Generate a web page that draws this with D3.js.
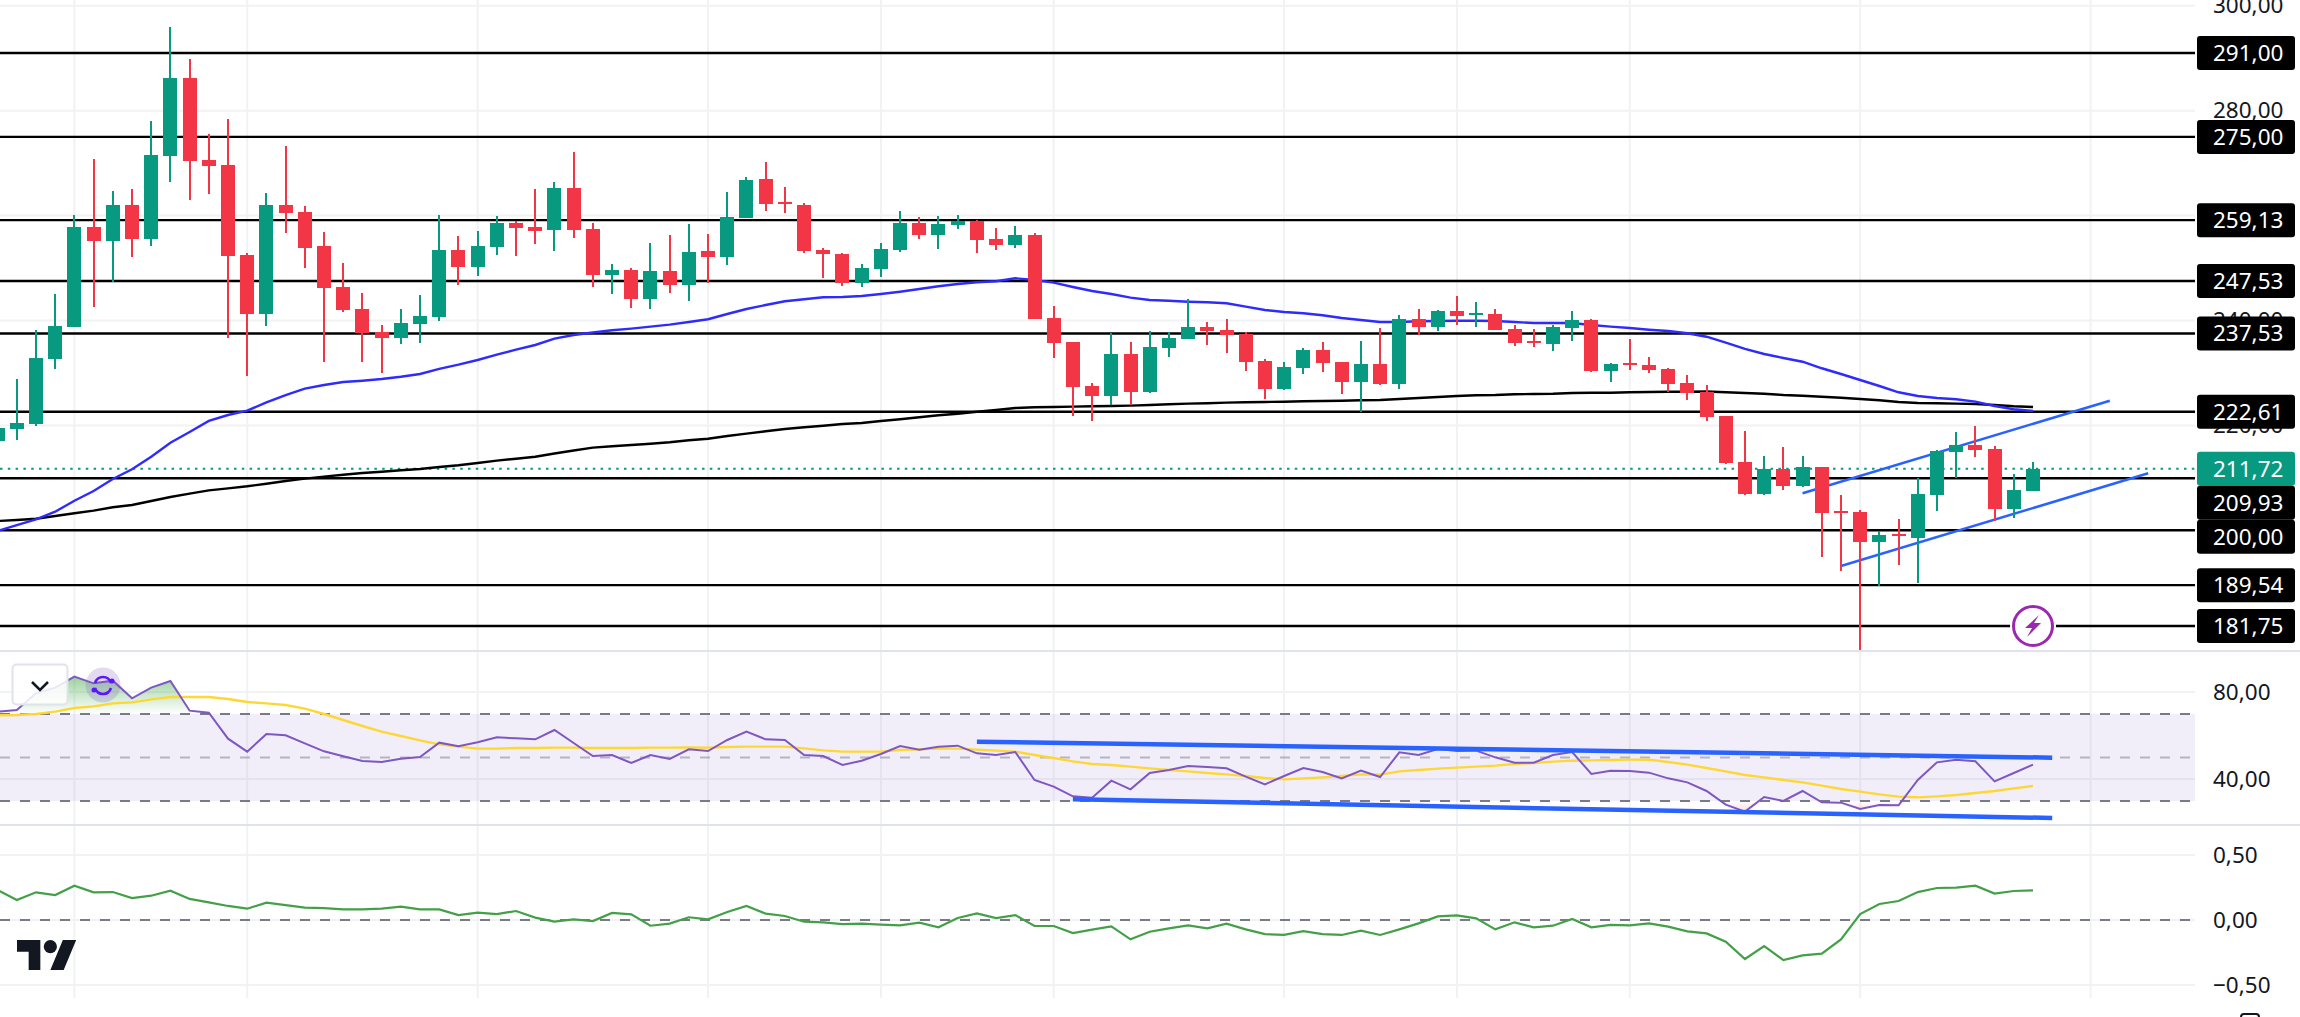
<!DOCTYPE html>
<html>
<head>
<meta charset="utf-8">
<title>chart</title>
<script src="https://cdn.jsdelivr.net/npm/d3@7"></script>
<style>
  html, body { margin: 0; padding: 0; background: #fff; overflow: hidden; }
  text { font-family: "Noto Sans", sans-serif; font-size: 22.5px; fill: #131722; }
</style>
</head>
<body>
<svg id="chart" width="2300" height="1017"></svg>
<script>
// candle values, first entry sits one bar left of the window edge
const opens = [217.08,219.31,220.27,232.66,238.82,257.82,255.21,262.02,255.59,271.42,
  286.23,270.60,269.65,252.49,241.30,262.02,260.69,254.20,246.39,242.19,
  237.81,236.72,239.39,240.72,253.44,250.26,254.07,258.59,257.82,257.31,
  265.26,257.44,248.73,249.63,244.15,249.44,246.82,253.25,252.16,259.60,
  266.98,262.59,262.02,253.44,252.68,247.21,249.87,253.50,258.59,256.36,
  258.26,259.03,255.54,254.45,256.30,240.47,235.90,227.51,225.66,233.61,
  226.42,234.81,236.53,238.76,238.19,237.48,232.28,227.00,231.00,234.37,
  232.09,228.33,231.70,227.95,240.28,238.82,241.81,241.18,241.24,238.38,
  236.09,235.57,238.62,240.09,230.43,231.90,231.51,230.75,228.08,226.42,
  221.79,213.02,206.98,211.69,208.50,212.07,203.68,203.49,197.83,199.29,
  198.59,206.79,214.98,216.26,215.50,204.12,207.55];
const highs = [219.50,228.85,238.19,245.05,260.11,270.79,264.69,265.07,278.03,295.95,
  289.85,275.55,278.42,252.81,264.31,273.27,261.83,256.87,250.96,245.24,
  239.14,242.19,244.86,260.11,256.11,257.06,259.92,258.97,265.07,266.41,
  272.12,258.59,250.77,250.01,254.78,256.30,258.40,256.49,264.50,267.36,
  270.22,265.45,262.40,253.82,252.87,250.77,254.78,260.88,259.73,259.92,
  260.11,259.16,257.64,258.02,256.68,242.76,235.90,228.08,237.61,235.90,
  237.99,237.81,244.04,239.71,240.28,237.81,232.66,232.09,234.75,235.90,
  232.09,236.09,238.57,241.05,242.19,242.00,244.67,243.53,242.19,239.14,
  238.38,239.14,241.81,240.28,231.90,236.47,233.04,230.94,229.61,227.70,
  221.79,218.93,214.17,215.88,214.17,212.07,206.73,203.87,199.86,202.15,
  209.91,215.31,218.74,219.88,216.07,210.73,213.02];
const lows = [217.08,217.21,219.94,230.75,238.82,242.63,247.40,252.16,254.20,266.46,
  263.03,264.18,236.72,229.47,239.01,256.74,250.07,232.14,241.68,232.14,
  230.05,235.57,235.77,239.96,246.82,248.54,252.54,252.35,254.64,253.31,
  255.79,246.44,245.11,242.44,242.25,245.30,243.77,247.21,250.64,259.60,
  260.93,260.55,252.92,248.16,246.63,246.44,248.35,253.12,255.59,253.69,
  257.50,252.92,253.50,253.88,240.20,232.91,221.85,220.90,223.89,223.89,
  226.20,233.10,236.53,235.33,233.86,230.43,225.09,226.80,229.85,230.24,
  226.04,222.61,227.76,227.00,237.29,238.05,239.14,238.82,238.24,235.19,
  235.00,234.24,236.15,230.24,228.33,230.62,230.05,226.37,224.90,220.90,
  212.70,206.73,206.79,207.74,208.31,194.97,192.30,177.18,189.32,193.44,
  190.01,203.74,210.03,214.03,201.83,202.40,207.55];
const closes = [219.50,220.40,232.79,238.95,257.82,255.21,262.02,255.59,271.55,286.23,
  270.47,269.51,252.35,241.30,262.02,260.55,253.88,246.25,242.06,237.67,
  236.72,239.52,240.86,253.44,250.26,254.20,258.59,257.69,257.12,265.26,
  257.31,248.73,249.63,244.15,249.44,246.82,253.06,252.16,259.73,266.79,
  262.27,262.34,253.31,252.73,247.21,250.01,253.63,258.59,256.36,258.40,
  258.97,255.40,254.45,256.30,240.34,235.77,227.38,225.66,233.61,226.42,
  234.95,236.66,238.76,237.99,237.29,232.14,227.00,231.13,234.37,231.95,
  228.33,231.70,227.95,240.28,238.82,241.81,240.91,241.43,238.24,235.77,
  235.84,238.76,240.09,230.43,231.70,231.57,230.62,227.95,226.23,221.66,
  212.89,206.92,211.74,208.50,212.07,203.35,203.43,197.83,199.10,199.04,
  206.92,215.12,216.26,215.37,204.12,207.68,211.72];

// moving averages on the price pane
const maBlue = [199.86,201.00,202.09,203.54,205.64,207.49,209.78,211.63,214.03,216.70,
  218.74,220.84,221.98,222.80,224.40,225.79,227.00,227.70,228.27,228.52,
  228.85,229.28,229.80,230.79,231.57,232.47,233.48,234.43,235.33,236.53,
  237.23,237.71,238.13,238.44,238.82,239.20,239.71,240.23,241.24,242.19,
  242.95,243.66,244.04,244.42,244.48,244.67,245.05,245.49,246.00,246.52,
  246.96,247.28,247.47,248.04,247.72,247.21,246.39,245.62,245.05,244.35,
  243.91,243.77,243.58,243.47,243.28,242.63,242.00,241.62,241.37,240.99,
  240.47,240.09,239.71,239.71,239.85,239.90,239.96,239.96,239.90,239.71,
  239.52,239.52,239.52,239.14,238.82,238.57,238.24,237.99,237.56,236.91,
  235.77,234.57,233.61,232.85,232.14,230.89,229.80,228.65,227.51,226.31,
  225.60,225.22,224.97,224.52,223.70,223.07,222.74];
const maBlack = [201.77,201.96,202.21,202.73,203.24,203.74,204.38,204.82,205.58,206.35,
  206.98,207.62,208.00,208.39,208.88,209.40,209.84,210.22,210.60,210.92,
  211.17,211.44,211.69,212.07,212.39,212.83,213.27,213.65,214.03,214.64,
  215.21,215.75,216.01,216.26,216.51,216.78,217.16,217.46,217.98,218.42,
  218.87,219.31,219.64,219.94,220.27,220.46,220.84,221.16,221.54,221.92,
  222.23,222.61,222.94,223.32,223.45,223.51,223.57,223.64,223.70,223.76,
  223.89,224.02,224.14,224.21,224.33,224.40,224.46,224.52,224.59,224.65,
  224.71,224.79,224.84,225.03,225.22,225.41,225.60,225.74,225.79,225.93,
  225.99,226.04,226.18,226.23,226.23,226.31,226.37,226.42,226.42,226.46,
  226.31,226.18,226.04,225.79,225.66,225.47,225.28,225.03,224.79,224.46,
  224.27,224.21,224.14,224.08,223.89,223.64,223.51];

// RSI pane
const rsiValues = [71.07,71.84,79.50,82.11,87.16,84.10,85.33,77.20,82.11,85.17,
  71.53,70.61,58.66,52.68,60.80,60.19,56.51,52.84,50.54,48.39,
  47.93,49.46,50.23,56.82,55.13,56.97,59.27,58.81,58.35,62.64,
  56.67,50.69,51.15,47.47,51.15,49.31,53.75,52.99,58.05,61.88,
  58.35,58.05,51.15,50.69,46.55,48.54,51.61,55.29,53.60,54.98,
  55.44,51.92,51.15,52.53,39.66,36.59,32.15,31.53,39.35,35.36,
  42.87,44.25,46.09,45.63,45.02,41.19,37.66,41.49,45.17,43.33,
  40.42,43.95,41.03,52.38,51.15,53.91,52.99,53.14,50.08,47.62,
  47.62,51.15,52.53,42.41,43.95,43.79,43.03,40.42,38.58,34.60,
  28.31,25.10,31.84,30.00,34.60,29.39,29.23,26.32,28.16,28.01,
  39.66,47.78,49.00,48.24,39.04,42.87,46.70];
const rsiMa = [69.39,69.54,70.00,71.07,72.76,73.52,74.90,75.36,76.74,77.82,
  77.82,77.82,76.90,75.52,74.90,74.14,72.45,70.00,67.24,64.48,
  61.88,59.89,57.89,56.05,54.98,54.06,54.06,54.37,54.37,54.52,
  54.52,54.37,54.37,54.37,54.52,54.52,54.67,54.52,54.83,54.98,
  54.98,54.98,54.21,53.30,52.68,52.68,52.68,53.45,53.75,54.06,
  54.06,53.60,53.14,52.68,51.15,49.77,48.24,47.01,46.55,45.79,
  45.02,44.25,43.64,42.87,42.26,41.49,40.57,39.96,40.42,40.88,
  41.49,42.26,42.11,43.64,44.25,44.87,45.33,45.79,46.25,47.01,
  47.47,48.08,48.54,48.70,48.85,49.00,49.00,47.93,46.70,45.17,
  43.64,41.95,40.88,39.66,38.58,37.05,35.52,34.29,33.07,31.99,
  31.69,32.15,32.76,33.68,34.60,35.82,36.89];

// lower oscillator pane
const oscValues = [0.230,0.154,0.213,0.192,0.264,0.213,0.215,0.169,0.187,0.226,
  0.162,0.136,0.108,0.087,0.133,0.115,0.095,0.092,0.082,0.082,
  0.087,0.103,0.082,0.082,0.038,0.056,0.046,0.069,0.018,-0.013,
  0.005,-0.008,0.054,0.044,-0.044,-0.028,0.021,0.005,0.062,0.108,
  0.049,0.031,-0.013,-0.018,-0.031,-0.028,-0.036,-0.041,-0.021,-0.056,
  0.015,0.051,0.015,0.038,-0.046,-0.046,-0.100,-0.074,-0.049,-0.149,
  -0.090,-0.064,-0.041,-0.064,-0.028,-0.072,-0.108,-0.115,-0.085,-0.108,
  -0.115,-0.082,-0.115,-0.072,-0.026,0.028,0.036,0.013,-0.072,-0.018,
  -0.056,-0.044,0.008,-0.056,-0.038,-0.041,-0.026,-0.051,-0.087,-0.103,
  -0.167,-0.300,-0.200,-0.308,-0.272,-0.259,-0.149,0.046,0.123,0.146,
  0.215,0.246,0.249,0.264,0.203,0.223,0.228];

// horizontal levels and axis ticks
const levels = [291, 275, 259.13, 247.53, 237.53, 222.61, 209.93, 200, 189.54, 181.75];
const lastPrice = 211.72;
const priceTicks = [300, 280, 260, 240, 220, 200];
const rsiTicks = [80, 40];
const rsiBands = [70, 50, 30];
const oscTicks = [0.5, 0, -0.5];
const gridBars = [3, 12, 24, 36, 45, 54, 66, 75, 84, 96, 108];

// drawn trend lines, [bar, value]
const channelUp = [[93, 207.05], [109, 224.71]];
const channelDown = [[95, 193.19], [111, 210.87]];
const rsiTrendUp = [[50, 57.28], [106, 49.92]];
const rsiTrendDown = [[55, 30.77], [106, 22.18]];

const plotRight = 2195;
const firstBar = -1;

const svg = d3.select("#chart");
const comma = d3.formatLocale({decimal: ",", thousands: ".", grouping: [3], currency: ["", ""], minus: "\u2212"}).format(".2f");

const x = d3.scaleLinear().domain([0, 105]).range([16.8, 2033]);
const yPrice = d3.scaleLinear().domain([291, 181.75]).range([53, 626]);
const yRsi = d3.scaleLinear().domain([70, 30]).range([714, 801]);
const yOsc = d3.scaleLinear().domain([0.5, -0.5]).range([855, 985]);
const yRsiAxis = d3.scaleLinear().domain([80, 40]).range([692, 779]);

const bars = opens.map((o, i) => ({bar: i + firstBar, open: o, high: highs[i], low: lows[i], close: closes[i]}));
const series = (values) => values.map((v, i) => ({bar: i + firstBar, value: v}));
const lineOn = (y) => d3.line().x(d => x(d.bar)).y(d => y(d.value));
const trendOn = (y) => d3.line().x(d => x(d[0])).y(d => y(d[1]));

// gradients for the RSI over/under zones
const defs = svg.append("defs");
const overGrad = defs.append("linearGradient").attr("id", "overGrad")
  .attr("gradientUnits", "userSpaceOnUse").attr("x1", 0).attr("x2", 0)
  .attr("y1", yRsi(87)).attr("y2", yRsi(70));
overGrad.append("stop").attr("offset", 0).attr("stop-color", "#4caf50").attr("stop-opacity", 0.55);
overGrad.append("stop").attr("offset", 1).attr("stop-color", "#4caf50").attr("stop-opacity", 0);
const underGrad = defs.append("linearGradient").attr("id", "underGrad")
  .attr("gradientUnits", "userSpaceOnUse").attr("x1", 0).attr("x2", 0)
  .attr("y1", yRsi(30)).attr("y2", yRsi(25));
underGrad.append("stop").attr("offset", 0).attr("stop-color", "#f23645").attr("stop-opacity", 0);
underGrad.append("stop").attr("offset", 1).attr("stop-color", "#f23645").attr("stop-opacity", 0.18);

// grid
const grid = svg.append("g").attr("stroke", "#f1f2f4").attr("stroke-width", 2);
grid.selectAll(".v").data(gridBars).join("line")
  .attr("x1", d => x(d)).attr("x2", d => x(d)).attr("y1", 0).attr("y2", 998);
const gridRows = priceTicks.map(d => yPrice(d)).concat(rsiTicks.map(d => yRsiAxis(d)), oscTicks.map(d => yOsc(d)));
grid.selectAll(".h").data(gridRows).join("line")
  .attr("x1", 0).attr("x2", plotRight).attr("y1", d => d).attr("y2", d => d);

// pane separators
svg.append("g").attr("stroke", "#e0e3eb").attr("stroke-width", 2)
  .selectAll("line").data([651, 825]).join("line")
  .attr("x1", 0).attr("x2", 2300).attr("y1", d => d).attr("y2", d => d);

// levels behind the candles
svg.append("g").attr("stroke", "#000").attr("stroke-width", 2.4)
  .selectAll("line").data(levels).join("line")
  .attr("x1", 0).attr("x2", plotRight).attr("y1", d => yPrice(d)).attr("y2", d => yPrice(d));

svg.append("line").attr("x1", 0).attr("x2", plotRight)
  .attr("y1", yPrice(lastPrice)).attr("y2", yPrice(lastPrice))
  .attr("stroke", "#089981").attr("stroke-width", 2).attr("stroke-dasharray", "2.5 5.3");

// moving averages
svg.append("path").datum(series(maBlack)).attr("d", lineOn(yPrice))
  .attr("fill", "none").attr("stroke", "#000").attr("stroke-width", 2.4);
svg.append("path").datum(series(maBlue)).attr("d", lineOn(yPrice))
  .attr("fill", "none").attr("stroke", "#2f2bff").attr("stroke-width", 2.4);

// channel
svg.append("g").selectAll("path").data([channelUp, channelDown]).join("path")
  .attr("d", trendOn(yPrice)).attr("fill", "none")
  .attr("stroke", "#2962ff").attr("stroke-width", 2.5);

// candles
const candle = svg.append("g").selectAll("g").data(bars).join("g")
  .attr("fill", d => d.close >= d.open ? "#089981" : "#f23645")
  .attr("shape-rendering", "crispEdges");
candle.append("rect")
  .attr("x", d => x(d.bar) - 1).attr("width", 2)
  .attr("y", d => yPrice(d.high)).attr("height", d => yPrice(d.low) - yPrice(d.high));
candle.append("rect")
  .attr("x", d => x(d.bar) - 7).attr("width", 14)
  .attr("y", d => yPrice(Math.max(d.open, d.close)))
  .attr("height", d => Math.max(2, Math.abs(yPrice(d.open) - yPrice(d.close))));

// RSI pane
svg.append("rect").attr("x", 0).attr("width", plotRight)
  .attr("y", yRsi(70)).attr("height", yRsi(30) - yRsi(70))
  .attr("fill", "#7e57c2").attr("fill-opacity", 0.1);

svg.append("g").selectAll("line").data(rsiBands).join("line")
  .attr("x1", 0).attr("x2", plotRight).attr("y1", d => yRsi(d)).attr("y2", d => yRsi(d))
  .attr("stroke", "#787b86").attr("stroke-width", 2).attr("stroke-dasharray", "10 10")
  .attr("stroke-opacity", d => d === 50 ? 0.5 : 1);

const rsiData = series(rsiValues);
svg.append("path").datum(rsiData)
  .attr("d", d3.area().x(d => x(d.bar)).y0(yRsi(70)).y1(d => yRsi(Math.max(d.value, 70))))
  .attr("fill", "url(#overGrad)");
svg.append("path").datum(rsiData)
  .attr("d", d3.area().x(d => x(d.bar)).y0(yRsi(30)).y1(d => yRsi(Math.min(d.value, 30))))
  .attr("fill", "url(#underGrad)");

svg.append("path").datum(series(rsiMa)).attr("d", lineOn(yRsi))
  .attr("fill", "none").attr("stroke", "#fdd835").attr("stroke-width", 2.4);
svg.append("path").datum(rsiData).attr("d", lineOn(yRsi))
  .attr("fill", "none").attr("stroke", "#7e57c2").attr("stroke-width", 2);

svg.append("g").selectAll("path").data([rsiTrendUp, rsiTrendDown]).join("path")
  .attr("d", trendOn(yRsi)).attr("fill", "none")
  .attr("stroke", "#2962ff").attr("stroke-width", 4.5);

// lower pane
svg.append("line").attr("x1", 0).attr("x2", plotRight).attr("y1", yOsc(0)).attr("y2", yOsc(0))
  .attr("stroke", "#787b86").attr("stroke-width", 2).attr("stroke-dasharray", "10 10");
svg.append("path").datum(series(oscValues)).attr("d", lineOn(yOsc))
  .attr("fill", "none").attr("stroke", "#43a047").attr("stroke-width", 2.2);

// axis labels, ticks stripped down to text
const axisAt = (scale, ticks) => {
  const g = svg.append("g").attr("transform", "translate(2213,0)")
    .call(d3.axisRight(scale).tickValues(ticks).tickSize(0).tickPadding(0).tickFormat(comma));
  g.select(".domain").remove();
  g.attr("font-family", null).attr("font-size", null);
  g.selectAll("text").attr("x", 0).attr("fill", null);
};
axisAt(yPrice, priceTicks);
axisAt(yRsiAxis, rsiTicks);
axisAt(yOsc, oscTicks);

// level tags, pushed down when they would overlap
const tagHeight = 34;
const tags = levels.map(v => ({value: v, fill: "#000"}));
tags.push({value: lastPrice, fill: "#089981"});
tags.sort((a, b) => d3.descending(a.value, b.value));
var nextTop = -Infinity;
tags.forEach(t => {
  t.top = Math.max(yPrice(t.value) - tagHeight / 2, nextTop);
  nextTop = t.top + tagHeight;
});
const tag = svg.append("g").selectAll("g").data(tags).join("g")
  .attr("transform", d => `translate(2197,${d.top})`);
tag.append("rect").attr("width", 98).attr("height", tagHeight).attr("rx", 3).attr("fill", d => d.fill);
tag.append("text").attr("x", 16).attr("y", tagHeight / 2).attr("dy", "0.35em")
  .style("fill", "#fff").text(d => comma(d.value));

// lightning badge on the lowest level
const badge = svg.append("g").attr("transform", `translate(${x(105)},${yPrice(181.75)})`);
badge.append("circle").attr("r", 23).attr("fill", "#fff");
badge.append("circle").attr("r", 19.5).attr("fill", "#fff").attr("stroke", "#9c27b0").attr("stroke-width", 3);
badge.append("path").attr("d", "M6,-11 L-8,2 L-1,2 L-6,11 L8,-3 L1,-3 Z").attr("fill", "#9c27b0");

// collapse button
const toggle = svg.append("g");
toggle.append("rect").attr("x", 12.5).attr("y", 664.5).attr("width", 55).attr("height", 40).attr("rx", 4)
  .attr("fill", "#fff").attr("fill-opacity", 0.85).attr("stroke", "#e0e3eb").attr("stroke-width", 2);
toggle.append("path").attr("d", "M32,682 L40,690 L48,682").attr("fill", "none")
  .attr("stroke", "#131722").attr("stroke-width", 2.5);

// sync icon
const sync = svg.append("g").attr("transform", "translate(103,685)");
sync.append("circle").attr("r", 17.5).attr("fill", "#7e57c2").attr("fill-opacity", 0.22);
sync.append("path").attr("d", "M-8,-2 A8.5,9 0 0 1 8,-2 M8,3 A8.5,9 0 0 1 -8,3")
  .attr("fill", "none").attr("stroke", "#5a16ff").attr("stroke-width", 2.5);
sync.append("circle").attr("cx", 9).attr("cy", -4).attr("r", 2.5).attr("fill", "#5a16ff");
sync.append("circle").attr("cx", -9).attr("cy", 5).attr("r", 2.5).attr("fill", "#5a16ff");

// logo
svg.append("path").attr("transform", "translate(17,933.3) scale(1.667)")
  .attr("d", "M14 22H7V11H0V4h14v18zM28 22h-8l7.5-18h8L28 22z").attr("fill", "#131722");
svg.append("circle").attr("cx", 17 + 20 * 1.667).attr("cy", 933.3 + 8 * 1.667).attr("r", 6.6).attr("fill", "#131722");

// top of a cropped toolbar icon
svg.append("rect").attr("x", 2241).attr("y", 1014).attr("width", 18).attr("height", 8).attr("rx", 3)
  .attr("fill", "none").attr("stroke", "#131722").attr("stroke-width", 2);
</script>
</body>
</html>
